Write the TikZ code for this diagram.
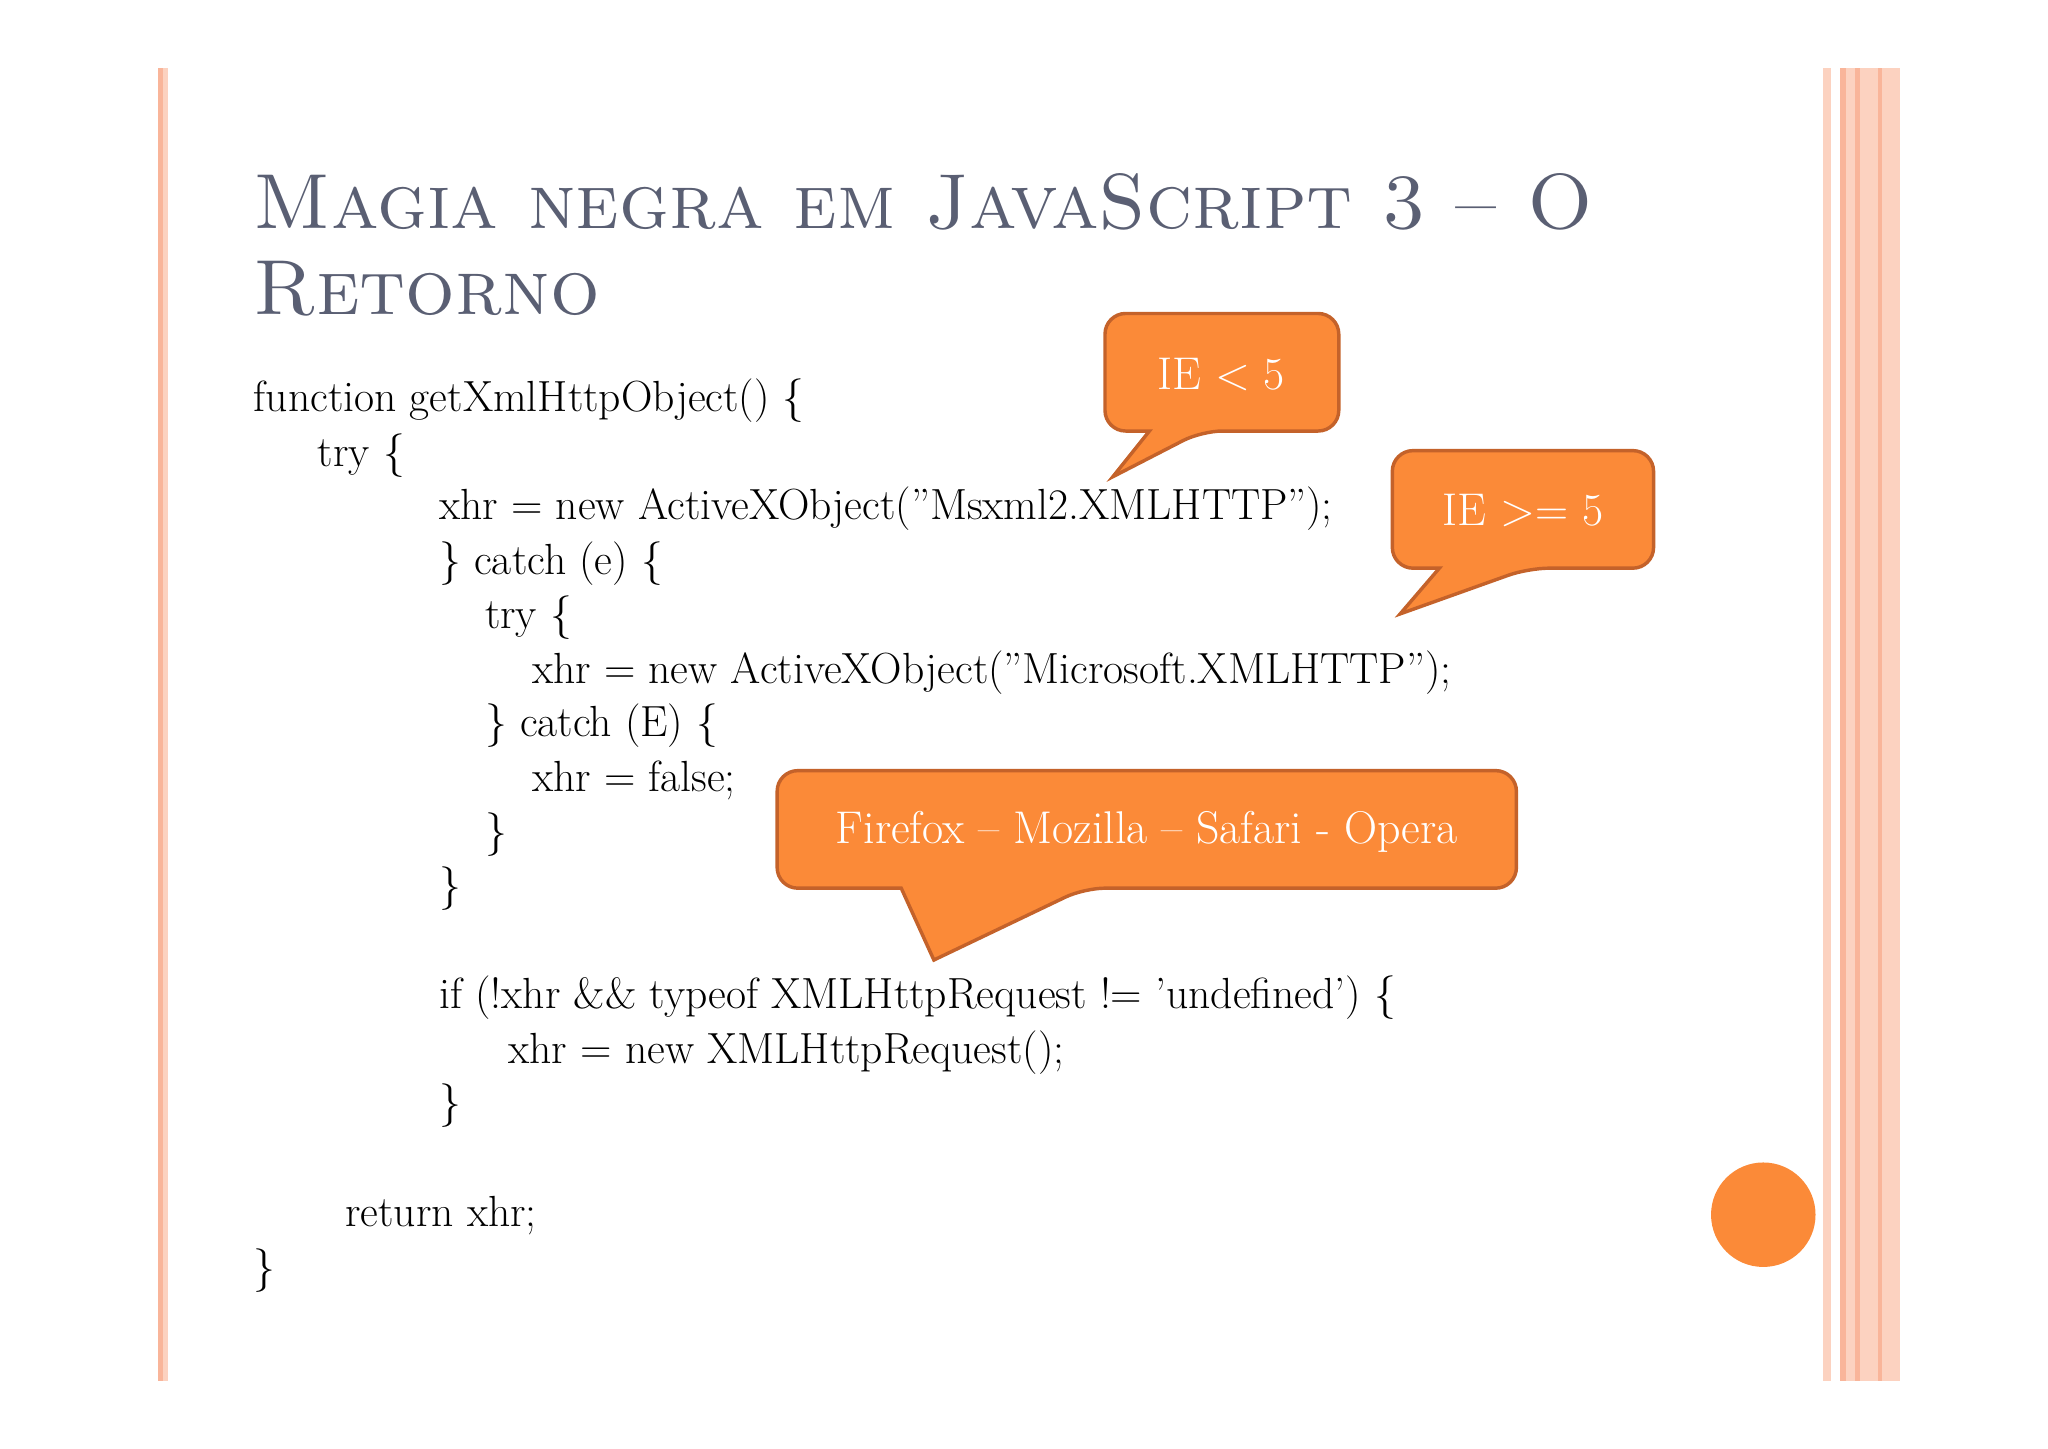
\documentclass[tikz,border=0pt]{standalone}
\begin{document}
\begin{tikzpicture}[x=0.02cm,y=-0.02cm,
 code/.style={anchor=base west,inner sep=0,font=\fontsize{19}{22}\selectfont},
 ttl/.style={anchor=base west,inner sep=0,text=titc,font=\fontsize{34}{40}\selectfont\scshape},
 call/.style={fill=callf,draw=calld,line width=1.5pt,rounded corners=9},
 ctext/.style={text=white,font=\fontsize{20}{24}\selectfont,inner sep=0}]
\definecolor{titc}{HTML}{5A5F73}
\definecolor{callf}{HTML}{FB8A38}
\definecolor{calld}{HTML}{C4622A}
\definecolor{barc}{HTML}{F9B59A}
\definecolor{barl}{HTML}{FCD2C0}
\useasboundingbox (0,0) rectangle (1568,1109);
% side bars
\fill[barc] (121,52) rectangle (125,1057);
\fill[barl] (125,52) rectangle (129,1057);
\fill[barl] (1396,52) rectangle (1402,1057);
\fill[barc] (1409,52) rectangle (1413,1057);
\fill[barl] (1413,52) rectangle (1420,1057);
\fill[barc] (1420,52) rectangle (1424,1057);
\fill[barl] (1424,52) rectangle (1438,1057);
\fill[barc] (1438,52) rectangle (1441,1057);
\fill[barl] (1441,52) rectangle (1455,1057);
\fill[callf] (1350,930) circle (40) coordinate (dot);
% title
\node[ttl] (t1) at (194,175) {Magia negra em JavaScript 3 -- O};
\node[ttl] (t2) at (194,241) {Retorno};
% code
\node[code] (l1) at (194,315) {function getXmlHttpObject() \{};
\node[code] (l2) at (243,357) {try \{};
\node[code] (l3) at (336,398) {xhr = new ActiveXObject("Msxml2.XMLHTTP");};
\node[code] (l4) at (336,440) {\} catch (e) \{};
\node[code] (l5) at (371,481) {try \{};
\node[code] (l6) at (407,523) {xhr = new ActiveXObject("Microsoft.XMLHTTP");};
\node[code] (l7) at (371,564) {\} catch (E) \{};
\node[code] (l8) at (407,606) {xhr = false;};
\node[code] (l9) at (371,647) {\}};
\node[code] (l10) at (336,689) {\}};
\node[code] (l11) at (336,772) {if (!xhr \&\& typeof XMLHttpRequest != 'undefined') \{};
\node[code] (l12) at (389,814) {xhr = new XMLHttpRequest();};
\node[code] (l13) at (336,855) {\}};
\node[code] (l14) at (264,939) {return xhr;};
\node[code] (l15) at (194,981) {\}};
% callouts
\draw[call] (846,240) -- (1025,240) -- (1025,330) -- (920,330) [sharp corners]-- (852,365) -- (880,330) [rounded corners=9]-- (846,330) -- cycle;
\node[ctext] (c1) at (935,287) {IE < 5};
\draw[call] (1066,345) -- (1266,345) -- (1266,435) -- (1170,435) [sharp corners]-- (1072,470) -- (1102,435) [rounded corners=9]-- (1066,435) -- cycle;
\node[ctext] (c2) at (1166,391) {IE >= 5};
\draw[call] (595,590) -- (1161,590) -- (1161,680) -- (830,680) [sharp corners]-- (715,735) -- (690,680) [rounded corners=9]-- (595,680) -- cycle;
\node[ctext] (c3) at (878,637) {Firefox -- Mozilla -- Safari - Opera};
\end{tikzpicture}
\end{document}
